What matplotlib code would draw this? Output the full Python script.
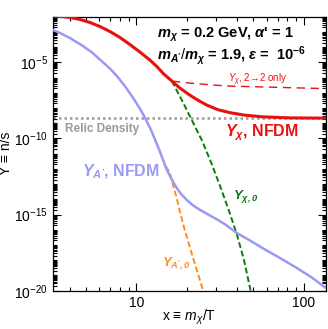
import matplotlib
matplotlib.use("Agg")
import matplotlib.pyplot as plt
from matplotlib.ticker import LogLocator, NullFormatter, FixedLocator
import numpy as np

plt.rcParams['font.family'] = ['Liberation Sans', 'DejaVu Sans']
plt.rcParams['mathtext.fontset'] = 'custom'
plt.rcParams['mathtext.rm'] = 'Liberation Sans'
plt.rcParams['mathtext.it'] = 'Liberation Sans:italic'
plt.rcParams['mathtext.bf'] = 'Liberation Sans:bold'
plt.rcParams['mathtext.bfit'] = 'Liberation Sans:bold:italic'

# curves: x = m_chi/T and log10(Y)
x_chi = [3.19, 3.61, 4.02, 4.62, 5.30, 6.07, 6.97, 8.00, 9.17, 10.52, 12.07, 13.28,
         14.62, 16.33, 18.23, 20.89, 23.33, 26.41, 30.70, 36.22, 44.46, 56.96, 82.5, 135.3]
logy_chi = [-1.954, -1.987, -2.053, -2.184, -2.382, -2.645, -2.974, -3.368, -3.829,
            -4.322, -4.849, -5.276, -5.770, -6.230, -6.691, -7.151, -7.480, -7.809,
            -8.105, -8.303, -8.467, -8.579, -8.645, -8.664]

x_chi22 = [16.33, 20.89, 29.14, 36.22, 135.3]
logy_chi22 = [-6.23, -6.362, -6.493, -6.559, -6.724]

x_ap = [3.19, 3.51, 4.02, 4.81, 5.45, 6.07, 6.97, 7.67, 8.56, 9.55, 10.52, 11.27, 12.07,
        12.93, 13.85, 15.18, 16.33, 17.42, 18.48, 19.98, 21.78, 23.98, 26.76, 30.16,
        34.27, 39.69, 47.64, 57.75, 71.9, 90.8, 111.6, 135.3]
logy_ap = [-2.875, -3.072, -3.401, -3.928, -4.355, -4.816, -5.408, -5.901, -6.559,
           -7.316, -8.039, -8.632, -9.289, -10.046, -10.868, -12.020, -12.711, -13.237,
           -13.632, -14.026, -14.388, -14.684, -14.980, -15.296, -15.671, -16.197,
           -16.691, -17.250, -17.842, -18.500, -19.125, -19.816]

x_chi0 = [16.33, 18.73, 21.18, 24.65, 28.28, 32.44, 36.22, 39.86, 43.85, 48.31]
logy_chi0 = [-6.230, -7.480, -8.664, -10.112, -11.690, -13.434, -14.914, -16.296,
             -17.908, -20.046]

x_ap0 = [15.03, 15.89, 17.26, 18.99, 20.33, 21.78, 23.33, 25.16]
logy_ap0 = [-11.822, -12.283, -13.730, -15.572, -16.691, -17.809, -18.862, -20.046]

relic = -8.66

RED = '#ea1010'
BLUE = '#9a9af5'
GREEN = '#0a7a0a'
ORANGE = '#ff8c1a'
GRAY = '#9a9a9a'

fig = plt.figure(figsize=(3.28, 3.29), dpi=100)
ax = fig.add_axes([0.1607, 0.1164, 0.8333, 0.8328])

ax.axhline(10.0**relic, color=GRAY, lw=1.8, ls=(0, (1, 1.2)), zorder=1)
ax.plot(x_ap0, 10.0**np.array(logy_ap0), color=ORANGE, lw=1.4, ls=(0, (3, 1.5)), zorder=2)
ax.plot(x_chi0, 10.0**np.array(logy_chi0), color=GREEN, lw=1.4, ls=(0, (3, 1.5)), zorder=2)
ax.plot(x_chi22, 10.0**np.array(logy_chi22), color=RED, lw=1.0, ls=(0, (6, 4)), zorder=3)
ax.plot(x_ap, 10.0**np.array(logy_ap), color=BLUE, lw=1.8, zorder=4)
ax.plot(x_chi, 10.0**np.array(logy_chi), color=RED, lw=2.2, zorder=5)

ax.set_xscale('log')
ax.set_yscale('log')
ax.set_xlim(3.17, 136)
ax.set_ylim(1e-20, 1e-2)

ax.yaxis.set_major_locator(FixedLocator([1e-20, 1e-15, 1e-10, 1e-5]))
ax.yaxis.set_minor_locator(LogLocator(base=10, subs=np.arange(1, 10), numticks=200))
ax.yaxis.set_minor_formatter(NullFormatter())
ax.xaxis.set_major_locator(FixedLocator([10, 100]))
ax.xaxis.set_minor_locator(LogLocator(base=10, subs=np.arange(2, 10), numticks=50))
ax.xaxis.set_minor_formatter(NullFormatter())
ax.set_xticklabels(['10', '100'])
ax.tick_params(which='both', direction='in', top=True, right=True, labelsize=10, width=0.8)
ax.tick_params(which='major', length=6)
ax.tick_params(which='minor', length=3)
for s in ax.spines.values():
    s.set_linewidth(0.9)

ax.set_xlabel(r'x ≡ $m_\chi$/T', fontsize=10, labelpad=-1)
ax.set_ylabel('Y ≡ n/s', fontsize=10, labelpad=1)


def px(xp, yp):
    # position measured on the reference picture -> axes fraction
    return (xp - 52.7) / (326.3 - 52.7), (290.7 - yp) / (290.7 - 16.7)


ax.text(0.381, 0.935, r"$\mathbfit{m}_{\mathbfit{\chi}}$ = 0.2 GeV, $\mathbfit{\alpha}$' = 1",
        transform=ax.transAxes, ha='left', va='center', fontsize=10.5, fontweight='bold')
ax.text(0.381, 0.858, r"$\mathbfit{m}_{\mathbfit{A'}}/\mathbfit{m}_{\mathbfit{\chi}}$ = 1.9, $\mathbfit{\epsilon}$ =  $\mathbf{10^{-6}}$",
        transform=ax.transAxes, ha='left', va='center', fontsize=10.5, fontweight='bold')

ax.text(*px(258, 80), r'$Y_\chi$, 2→2 only', color=RED, fontsize=7, ha='center', va='center',
        transform=ax.transAxes)
ax.text(*px(262, 133), r'$\mathbfit{Y}_{\mathbfit{\chi}}$, NFDM', color=RED, fontsize=11.5,
        fontweight='bold', ha='center', va='center', transform=ax.transAxes)
ax.text(*px(121, 172), r"$\mathbfit{Y}_{\mathbfit{A'}}$, NFDM", color=BLUE, fontsize=11.5,
        fontweight='bold', ha='center', va='center', transform=ax.transAxes)
ax.text(*px(102, 129), 'Relic Density', color=GRAY, fontsize=8.5, fontweight='bold',
        ha='center', va='center', transform=ax.transAxes)
ax.text(*px(246, 196), r'$\mathbfit{Y}_{\mathbfit{\chi,0}}$', color=GREEN, fontsize=9.5,
        ha='center', va='center', transform=ax.transAxes)
ax.text(*px(176, 264), r"$\mathbfit{Y}_{\mathbfit{A',0}}$", color=ORANGE, fontsize=9.5,
        ha='center', va='center', transform=ax.transAxes)

fig.savefig('out.png', dpi=100)
